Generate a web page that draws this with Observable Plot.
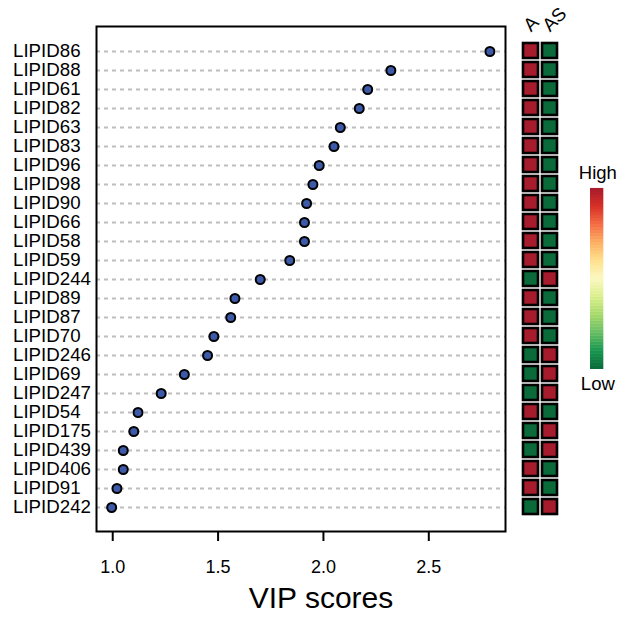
<!DOCTYPE html>
<html>
<head>
<meta charset="utf-8">
<script src="https://cdn.jsdelivr.net/npm/d3@7"></script>
<script src="https://cdn.jsdelivr.net/npm/@observablehq/plot@0.6"></script>
<style>
  html, body { margin: 0; padding: 0; background: white; }
  #chart { position: relative; width: 619px; height: 619px; }
  #chart > svg { position: absolute; left: 0; top: 0; }
</style>
</head>
<body>
<div id="chart"></div>
<script>
// ---- data ----
const lipids = ["LIPID86","LIPID88","LIPID61","LIPID82","LIPID63","LIPID83","LIPID96","LIPID98","LIPID90","LIPID66","LIPID58","LIPID59","LIPID244","LIPID89","LIPID87","LIPID70","LIPID246","LIPID69","LIPID247","LIPID54","LIPID175","LIPID439","LIPID406","LIPID91","LIPID242"];
const vipScores = [2.79,2.32,2.21,2.17,2.08,2.05,1.98,1.95,1.92,1.91,1.91,1.84,1.70,1.58,1.56,1.48,1.45,1.34,1.23,1.12,1.10,1.05,1.05,1.02,0.995];
const groups = ["A","AS"];
const levelA  = ["High","High","High","High","High","High","High","High","High","High","High","High","Low","High","High","High","Low","Low","Low","High","Low","Low","High","High","Low"];
const levelAS = ["Low","Low","Low","Low","Low","Low","Low","Low","Low","Low","Low","Low","High","Low","Low","Low","High","High","High","Low","High","High","Low","Low","High"];
const xTicks = [1.0, 1.5, 2.0, 2.5];
const legendLabels = ["High", "Low"];
const xLabel = "VIP scores";

// ---- styling ----
const FONT = "'Liberation Sans', Arial, Helvetica, sans-serif";
const W = 619, H = 619;
const mTop = 26, mBottom = 88, mLeft = 96, mRight = 114;
const baseStyle = {background: "transparent", fontFamily: FONT, fontSize: "18px", color: "black", overflow: "visible"};
const cellRed = "#a61c2c", cellGreen = "#0b6a39";
const gradStops = [cellGreen, "#199750", "#66bd63", "#a6d96a", "#d9ef8b", "#fbf8c0", "#fee08b", "#fdae61", "#f46d43", "#d73027", cellRed];

const points = lipids.map((name, i) => ({name, vip: vipScores[i]}));
const cells = lipids.flatMap((name, i) => [
  {name, group: "A", level: levelA[i]},
  {name, group: "AS", level: levelAS[i]}
]);

// ---- main dot chart ----
const main = Plot.plot({
  width: W, height: H,
  marginTop: mTop, marginBottom: mBottom, marginLeft: mLeft, marginRight: mRight,
  style: baseStyle,
  x: {domain: [0.923, 2.864]},
  y: {type: "point", domain: lipids, padding: 1, axis: null},
  marks: [
    Plot.ruleY(lipids, {stroke: "#bebebe", strokeWidth: 2, strokeDasharray: "4,4"}),
    Plot.frame({stroke: "black", strokeWidth: 2}),
    Plot.dot(points, {x: "vip", y: "name", r: 4.5, fill: "#3d5aa9", stroke: "black", strokeWidth: 2}),
    Plot.axisX({ticks: xTicks, tickFormat: d3.format(".1f"), tickSize: 10, tickPadding: 19, strokeWidth: 2, fontSize: 18, label: null}),
    Plot.text(lipids, {y: d => d, text: d => d, frameAnchor: "left", dx: -83.5, textAnchor: "start", fontSize: 18.7}),
    Plot.text([xLabel], {text: d => d, frameAnchor: "bottom", dx: 20, dy: 76, fontSize: 30})
  ]
});

// ---- heatmap ----
const step = (H - mBottom - mTop) / (lipids.length + 1);
const heat = Plot.plot({
  width: W, height: H, margin: 0,
  style: baseStyle,
  x: {type: "band", domain: groups, range: [520.5, 560], padding: 0, axis: null},
  y: {type: "band", domain: lipids, range: [mTop + step / 2, H - mBottom - step / 2], padding: 0, axis: null},
  color: {type: "ordinal", domain: ["Low", "High"], range: [cellGreen, cellRed]},
  marks: [
    Plot.cell(cells, {x: "group", y: "name", fill: "level", stroke: "black", strokeWidth: 2.6, inset: 2}),
    Plot.text(groups, {x: d => d, text: d => d, frameAnchor: "top", dy: 32, dx: 0, rotate: -45, textAnchor: "start", lineAnchor: "bottom", fontSize: 18.7})
  ]
});

// ---- legend ----
const nSteps = 60;
const legendSteps = d3.range(nSteps).map(i => i / nSteps);
const legend = Plot.plot({
  width: W, height: H, margin: 0,
  style: baseStyle,
  x: {domain: [0, 1], range: [590, 603.3], axis: null},
  y: {domain: [0, 1], range: [369, 188.3], axis: null},
  color: {type: "linear", domain: gradStops.map((_, i) => i / (gradStops.length - 1)), range: gradStops},
  marks: [
    Plot.rect(legendSteps, {x1: 0, x2: 1, y1: d => d, y2: d => d + 1 / nSteps + 0.002, fill: d => d + 0.5 / nSteps}),
    Plot.text([legendLabels[0]], {text: d => d, x: 0.55, frameAnchor: "top", dy: 178, lineAnchor: "bottom", fontSize: 18.5}),
    Plot.text([legendLabels[1]], {text: d => d, x: 0.55, frameAnchor: "top", dy: 389, lineAnchor: "bottom", fontSize: 18.5})
  ]
});

const chart = document.getElementById("chart");
chart.append(main, heat, legend);
</script>
</body>
</html>
